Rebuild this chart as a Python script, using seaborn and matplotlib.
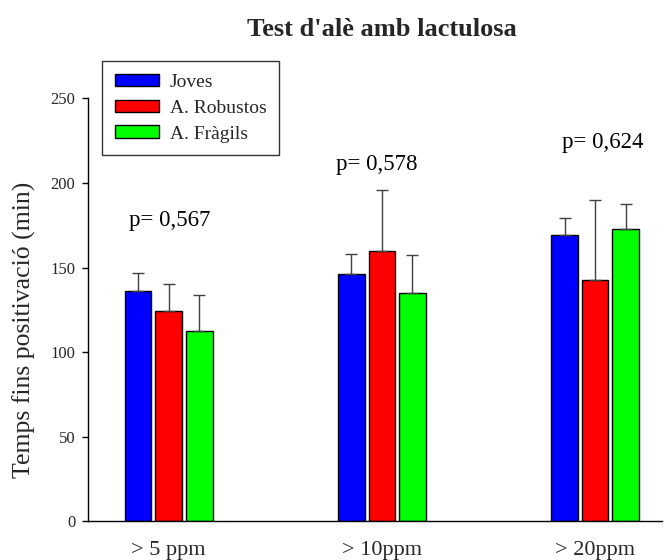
import numpy as np
import pandas as pd
import matplotlib
matplotlib.use("Agg")
import matplotlib.pyplot as plt
import seaborn as sns

categories = ["> 5 ppm", "> 10ppm", "> 20ppm"]
groups = ["Joves", "A. Robustos", "A. Fràgils"]
joves = [136.0, 146.0, 169.5]
robustos = [124.0, 160.0, 142.5]
fragils = [112.5, 135.0, 172.5]
err_joves = [11.0, 12.0, 9.5]
err_robustos = [16.0, 36.0, 47.5]
err_fragils = [21.5, 22.5, 15.0]
p_values = ["p= 0,567", "p= 0,578", "p= 0,624"]
p_heights = [178, 211, 224]
colors = ["#0000ff", "#ff0000", "#00ff00"]

sns.set_theme(style="white")
plt.rcParams["font.family"] = ["Liberation Serif", "DejaVu Serif"]

df = pd.DataFrame({
    "cat": categories * 3,
    "grp": [groups[0]] * 3 + [groups[1]] * 3 + [groups[2]] * 3,
    "val": joves + robustos + fragils,
})
errs = [err_joves, err_robustos, err_fragils]

fig = plt.figure(figsize=(6.64, 5.6), dpi=100)
ax = fig.add_axes([88.3 / 664, 1 - 521.3 / 560, (662 - 88.3) / 664, (521.3 - 98.3) / 560])

sns.barplot(data=df, x="cat", y="val", hue="grp", order=categories, hue_order=groups,
            palette=colors, width=0.43, gap=0.13, errorbar=None,
            edgecolor="black", linewidth=1.0, saturation=1, ax=ax)

for cont, e in zip(ax.containers, errs):
    for bar, ev in zip(cont, e):
        xc = bar.get_x() + bar.get_width() / 2
        h = bar.get_height()
        _, caps, _ = ax.errorbar([xc], [h], yerr=[[0], [ev]], fmt="none",
                                 ecolor="#404040", elinewidth=1.0, capsize=4.5,
                                 capthick=1.0, zorder=1)
        for c in caps:
            c.set_color("black")

ax.set_xlim(-0.377, 2.314)
ax.set_ylim(0, 250)
ax.set_yticks([0, 50, 100, 150, 200, 250])
ax.tick_params(axis="y", direction="out", length=4.3, width=1, color="black",
               labelsize=12, pad=5, left=True)
ax.tick_params(axis="x", length=0, labelsize=16, pad=14)
ax.set_xlabel("")
ax.set_ylabel("")
for s in ["top", "right"]:
    ax.spines[s].set_visible(False)
for s in ["left", "bottom"]:
    ax.spines[s].set_color("black")
    ax.spines[s].set_linewidth(1.0)

xs = [0.005, 0.977, 2.035]
for x, y, t in zip(xs, p_heights, p_values):
    ax.text(x, y, t, ha="center", va="center", fontsize=16.5, color="black")

fig.text(381.7 / 664, 1 - 30 / 560, "Test d'alè amb lactulosa", ha="center", va="center",
         fontsize=19, fontweight="bold")
fig.text(24 / 664, 1 - 330 / 560, "Temps fins positivació (min)", ha="center", va="center",
         rotation=90, fontsize=18.5)

leg = ax.legend(loc="upper left", bbox_to_anchor=(102.3 / 664, 1 - 61 / 560),
                bbox_transform=fig.transFigure, fontsize=14, frameon=True,
                fancybox=False, edgecolor="black", handlelength=2.27,
                handleheight=0.62, labelspacing=0.45, borderpad=0.65,
                handletextpad=0.55, borderaxespad=0)
leg.get_frame().set_linewidth(1.0)
leg.set_title(None)

fig.savefig("out.png", dpi=100)
